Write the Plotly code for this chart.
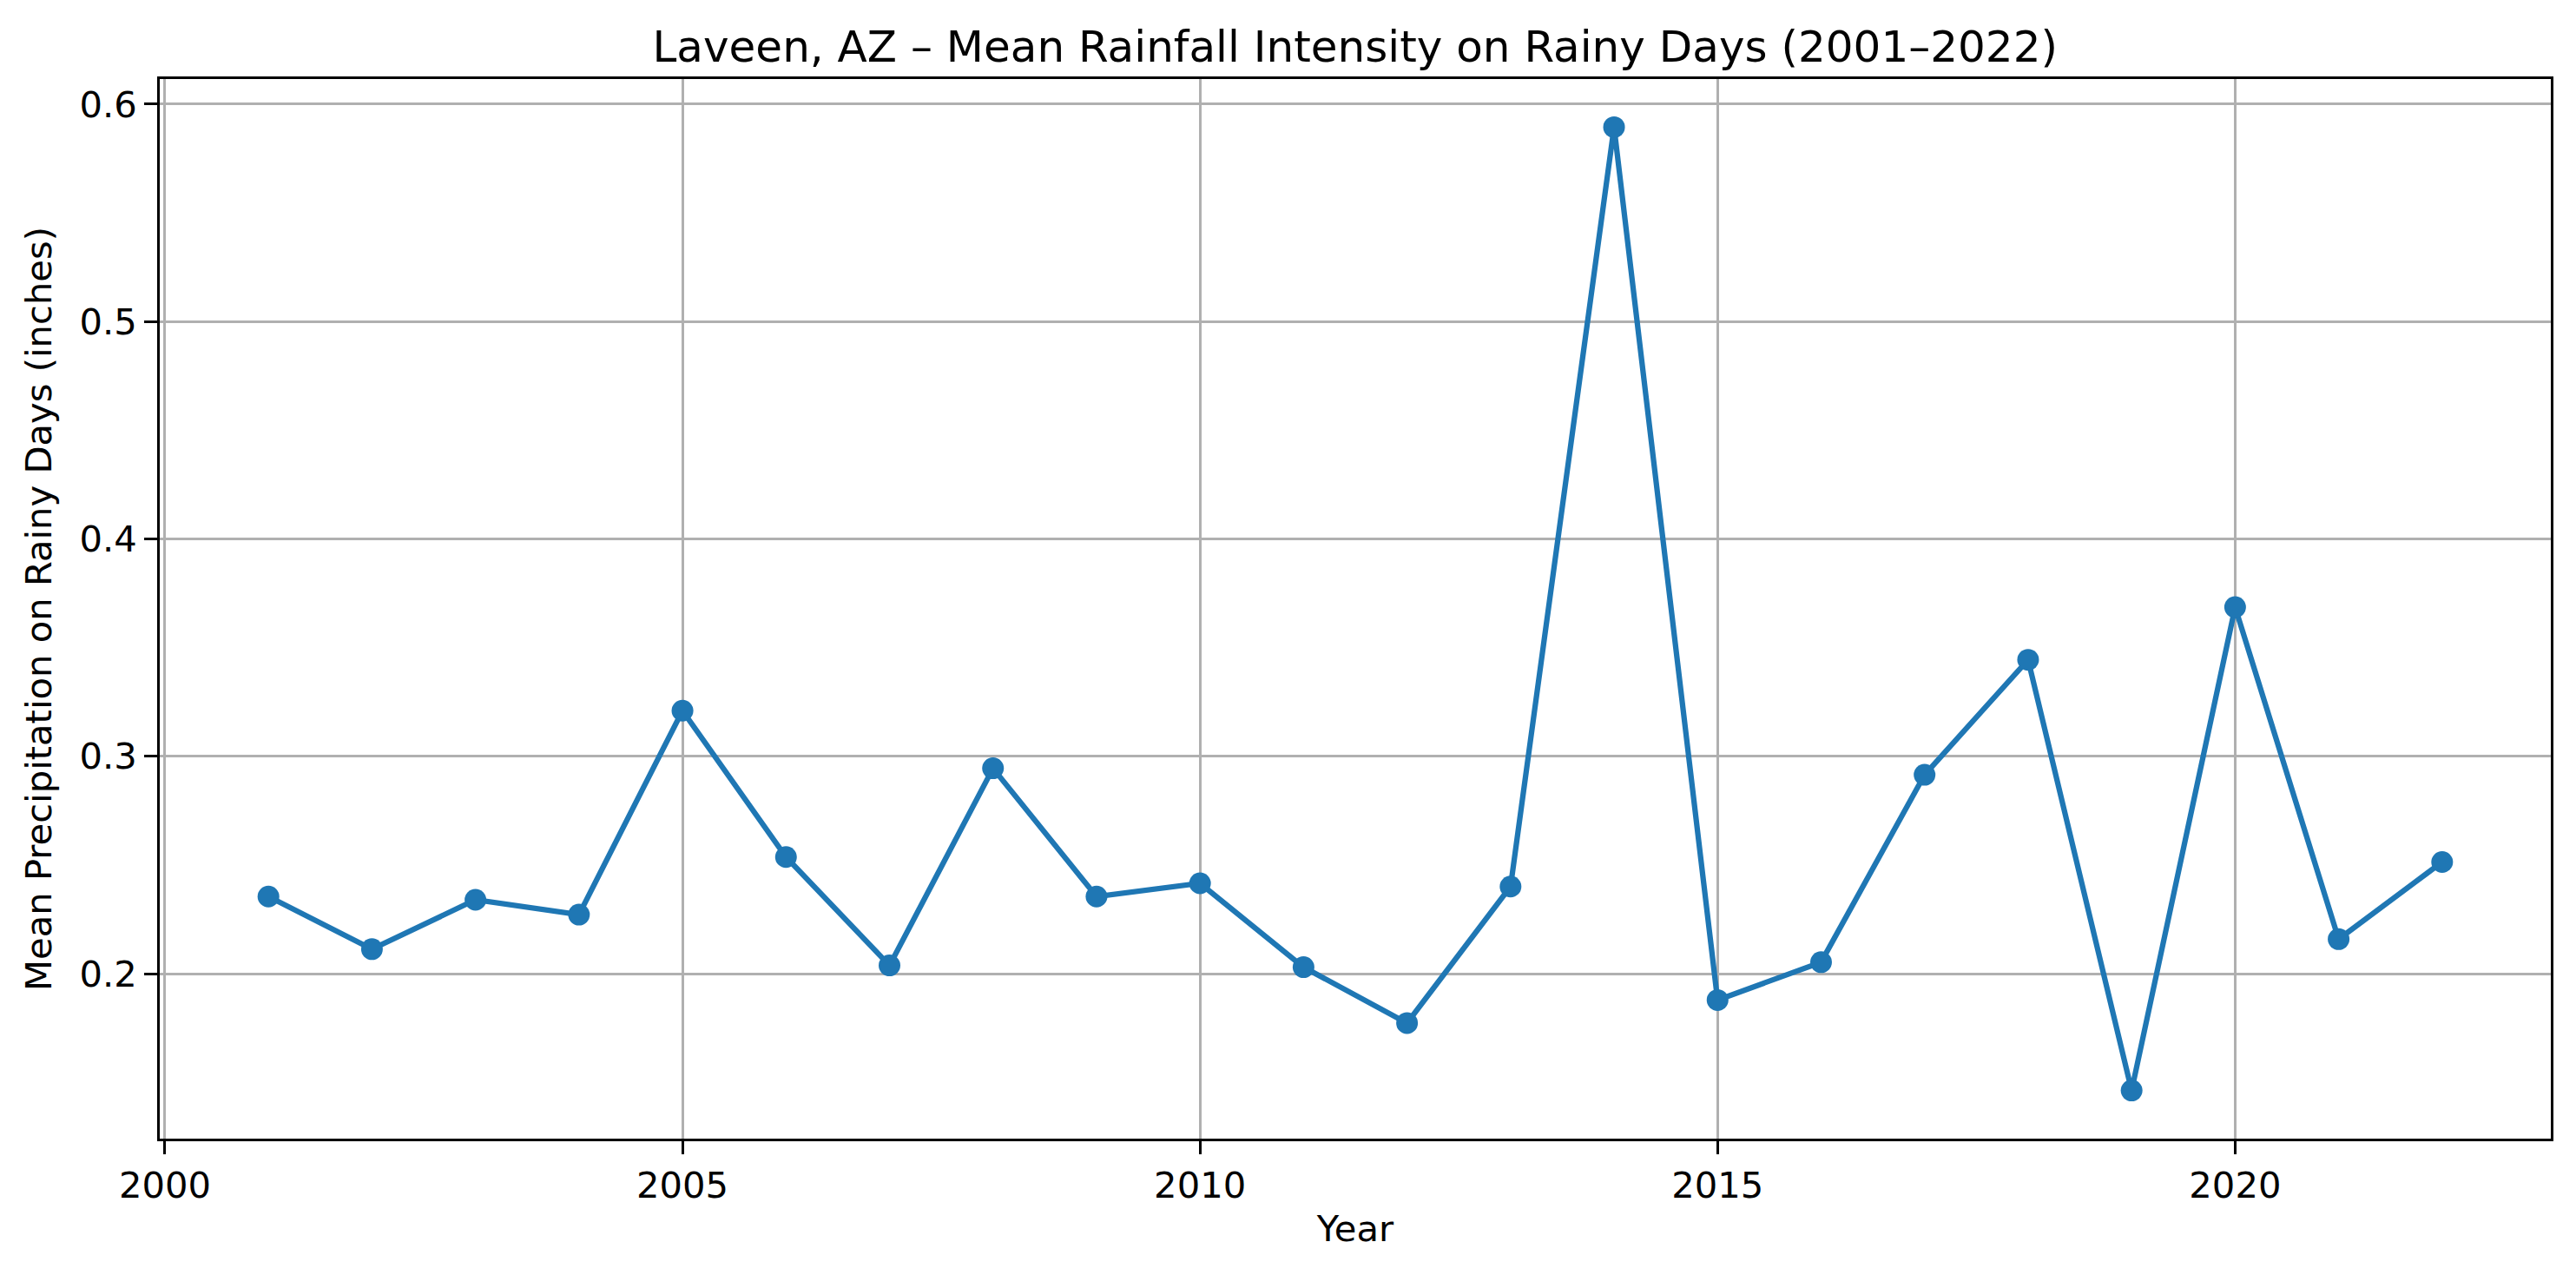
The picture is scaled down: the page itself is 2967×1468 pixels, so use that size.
import plotly.graph_objects as go

years = list(range(2001, 2023))
mean_precip = [0.2355, 0.2113, 0.2340, 0.2272, 0.3210, 0.2537, 0.2038, 0.2945,
               0.2355, 0.2416, 0.2030, 0.1773, 0.2401, 0.5894, 0.1879, 0.2053,
               0.2915, 0.3444, 0.1463, 0.3686, 0.2159, 0.2514]

x_ticks = [2000, 2005, 2010, 2015, 2020]
y_ticks = [0.2, 0.3, 0.4, 0.5, 0.6]

W, H = 2951, 1452
FONT = "DejaVu Sans"
fs = 41.7
ML, MR, MT, MB = 175.5, 21, 83, 149

fig = go.Figure()
fig.add_trace(go.Scatter(
    x=years, y=mean_precip, mode="lines+markers",
    line=dict(color="#1f77b4", width=6.25),
    marker=dict(color="#1f77b4", size=25),
    showlegend=False,
))

xr = (min(years), max(years))
xm = (xr[1] - xr[0]) * 0.05
yr = (min(mean_precip), max(mean_precip))
ym = (yr[1] - yr[0]) * 0.05

axis_common = dict(
    showline=True, linecolor="black", linewidth=3.3, mirror=True,
    ticks="outside", ticklen=14.6, tickwidth=3.3, tickcolor="black",
    showgrid=True, gridcolor="#b0b0b0", gridwidth=3.3,
    zeroline=False, tickfont=dict(family=FONT, size=fs, color="black"),
)

fig.update_layout(
    width=W, height=H,
    margin=dict(l=ML, r=MR, t=MT, b=MB),
    paper_bgcolor="white", plot_bgcolor="white",
    font=dict(family=FONT, size=fs, color="black"),
    title=dict(text="Laveen, AZ – Mean Rainfall Intensity on Rainy Days (2001–2022)",
               x=(ML + (W - MR)) / 2 / W, xanchor="center",
               y=1 - 45 / H, yanchor="middle", yref="container",
               font=dict(family=FONT, size=50, color="black")),
    xaxis=dict(range=[xr[0] - xm, xr[1] + xm], tickvals=x_ticks,
               ticktext=[str(v) for v in x_ticks],
               title=dict(text="Year", font=dict(family=FONT, size=fs), standoff=13),
               **axis_common),
    yaxis=dict(range=[yr[0] - ym, yr[1] + ym], tickvals=y_ticks,
               ticktext=[f"{v:.1f}" for v in y_ticks],
               title=dict(text="Mean Precipitation on Rainy Days (inches)",
                          font=dict(family=FONT, size=fs), standoff=20),
               **axis_common),
)

fig.write_html("out.html")
